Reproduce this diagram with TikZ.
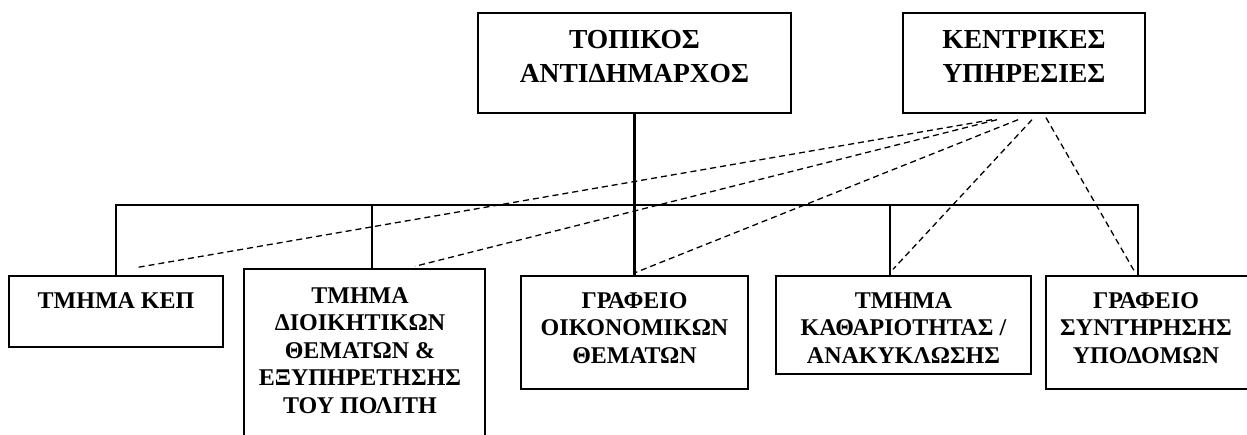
\documentclass[tikz,border=0pt]{standalone}
\usepackage{fontspec}
\setmainfont{Liberation Serif}
\begin{document}
\begin{tikzpicture}[x=1pt,y=-1pt,
  orgbox/.style={draw=black, line width=1.4pt, rectangle, inner sep=0pt},
  lbl/.style={anchor=north, align=center, inner sep=0pt, font=\fontsize{24}{27.5}\selectfont\bfseries},
  toplbl/.style={lbl, font=\fontsize{27.5}{34}\selectfont\bfseries},
  conn/.style={line width=2.6pt},
  dline/.style={line width=1.3pt, dash pattern=on 6pt off 4pt}]
\useasboundingbox (0,0) rectangle (1247,434);
\begin{scope}
\clip (0,0) rectangle (1247,434);
% boxes
\node[orgbox, minimum width=313pt, minimum height=100pt] (lokal) at (634.5,63) {};
\node[orgbox, minimum width=242pt, minimum height=100pt] (kentr) at (1024,63) {};
\node[orgbox, minimum width=214pt, minimum height=71pt] (kep) at (116,311.5) {};
\node[orgbox, minimum width=241pt, minimum height=211pt] (dioik) at (364.5,374.5) {};
\node[orgbox, minimum width=227pt, minimum height=113pt] (oikon) at (634.5,332.5) {};
\node[orgbox, minimum width=255pt, minimum height=98pt] (kathar) at (903.5,325) {};
\node[orgbox, minimum width=203pt, minimum height=113pt] (synt) at (1147.5,332.5) {};
% texts
\node[toplbl] (lokalT) at (634.5,30) {ΤΟΠΙΚΟΣ\\ΑΝΤΙΔΗΜΑΡΧΟΣ};
\node[toplbl] (kentrT) at (1024,30) {ΚΕΝΤΡΙΚΕΣ\\ΥΠΗΡΕΣΙΕΣ};
\node[lbl] (kepT) at (116,292) {ΤΜΗΜΑ ΚΕΠ};
\node[lbl] (dioikT) at (360,287) {ΤΜΗΜΑ\\ΔΙΟΙΚΗΤΙΚΩΝ\\ΘΕΜΑΤΩΝ \&\\ΕΞΥΠΗΡΕΤΗΣΗΣ\\ΤΟΥ ΠΟΛΙΤΗ};
\node[lbl] (oikonT) at (634.5,292) {ΓΡΑΦΕΙΟ\\ΟΙΚΟΝΟΜΙΚΩΝ\\ΘΕΜΑΤΩΝ};
\node[lbl] (katharT) at (903.5,292) {ΤΜΗΜΑ\\ΚΑΘΑΡΙΟΤΗΤΑΣ /\\ΑΝΑΚΥΚΛΩΣΗΣ};
\node[lbl] (syntT) at (1146,292) {ΓΡΑΦΕΙΟ\\ΣΥΝΤΉΡΗΣΗΣ\\ΥΠΟΔΟΜΩΝ};
% solid connectors
\coordinate (bus) at (634.5,205);
\coordinate (d2) at ([xshift=7.5pt]dioik.north);
\coordinate (d4) at ([xshift=-13.5pt]kathar.north);
\coordinate (d5) at ([xshift=-9.5pt]synt.north);
\draw[conn] (lokal.south) -- (bus);
\draw[conn] (kep.north) |- (bus) -| (d5);
\draw[conn] (d2) -- (d2 |- bus);
\draw[conn] (oikon.north) -- (bus);
\draw[conn] (d4) -- (d4 |- bus);
% dashed connectors
\draw[dline] ([shift={(-32,6)}]kentr.south) -- ([shift={(22,-8)}]kep.north);
\draw[dline] ([shift={(-27,6)}]kentr.south) -- ([shift={(50.5,-2)}]dioik.north);
\draw[dline] ([shift={(-6,6)}]kentr.south) -- ([shift={(1.5,-3)}]oikon.north);
\draw[dline] ([shift={(8,6)}]kentr.south) -- ([shift={(-10.5,-6)}]kathar.north);
\draw[dline] ([shift={(22,4)}]kentr.south) -- ([shift={(-12.5,-3)}]synt.north);
\end{scope}
\end{tikzpicture}
\end{document}
